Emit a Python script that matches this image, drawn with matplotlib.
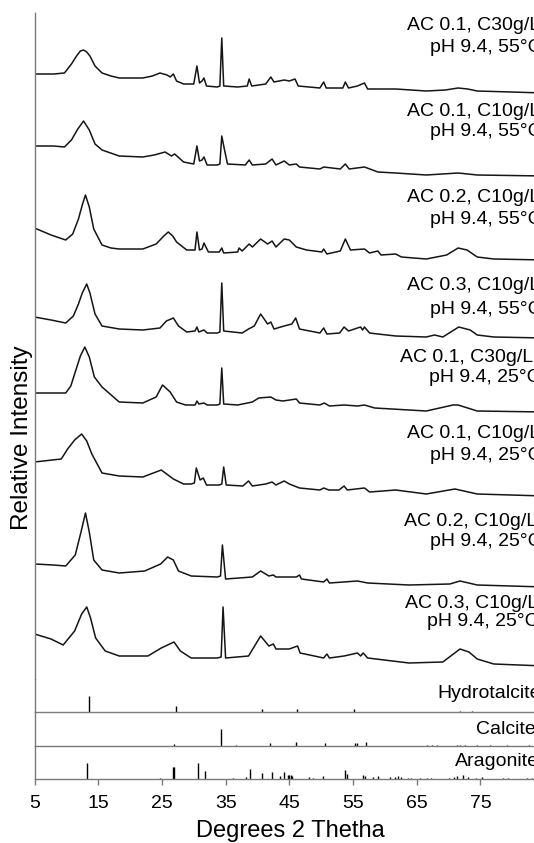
import numpy as np
import matplotlib.pyplot as plt

plt.rcParams['font.family'] = ['Liberation Sans', 'DejaVu Sans']

# --- XRD patterns (2theta in degrees, intensity above each trace's own baseline) ---
tt_1 = [5.0, 8.0, 9.7, 10.8, 11.6, 12.2, 12.7, 13.2, 13.7, 14.5, 15.6, 17.0, 18.3, 22.0, 23.5, 24.7, 25.8, 26.3, 26.8, 27.3,
        28.4, 30.0, 30.5, 30.9, 31.3, 31.6, 32.0, 33.7, 34.1, 34.4, 34.7, 36.9, 38.4, 38.7, 39.1, 41.3, 42.1, 42.6, 44.2, 45.0,
        45.9, 46.4, 49.8, 50.4, 50.8, 53.4, 53.8, 54.3, 55.7, 56.8, 57.3, 58.9, 61.7, 66.5, 69.5, 71.5, 73.0, 74.5, 85.0]
int_1 = [19, 19, 20, 29, 37, 42, 43, 41, 37, 27, 20, 17, 15, 15, 17, 20, 18, 16, 19, 12,
         9, 9, 27, 10, 12, 15, 7, 6, 7, 55, 7, 6, 7, 14, 7, 9, 16, 11, 13, 12,
         14, 7, 5, 11, 5, 5, 11, 5, 7, 10, 4, 4, 4, 2, 3, 5, 4, 2, 0]

tt_2 = [5.0, 8.0, 9.7, 10.8, 11.8, 12.7, 13.6, 14.5, 15.6, 18.3, 22.0, 23.8, 25.5, 26.5, 27.0, 28.4, 30.0, 30.5, 30.9, 31.3,
        31.6, 32.1, 33.7, 34.1, 34.4, 34.8, 35.3, 38.1, 38.7, 39.2, 41.3, 42.3, 42.9, 44.2, 45.0, 46.1, 46.6, 49.8, 50.4, 53.0,
        53.8, 54.4, 56.8, 58.9, 61.7, 66.5, 71.5, 74.5, 85.0]
int_2 = [30, 30, 29, 36, 47, 55, 46, 32, 26, 20, 19, 21, 24, 20, 22, 14, 12, 30, 15, 16,
         19, 11, 11, 12, 40, 27, 12, 11, 16, 11, 12, 17, 11, 15, 11, 12, 9, 7, 9, 7,
         12, 7, 9, 4, 3, 1, 3, 1, 0]

tt_3 = [5.0, 7.6, 9.9, 11.0, 11.9, 12.5, 13.0, 13.6, 14.3, 15.6, 17.0, 18.3, 22.0, 24.1, 25.3, 26.0, 26.7, 27.3, 28.9, 30.2,
        30.5, 30.9, 31.3, 31.6, 32.3, 34.0, 34.4, 34.7, 36.9, 37.1, 37.6, 38.7, 39.2, 40.5, 41.6, 42.3, 42.9, 44.2, 45.0, 46.1,
        47.7, 50.1, 50.4, 50.9, 53.0, 53.8, 54.6, 56.8, 57.6, 58.9, 59.4, 61.7, 62.6, 66.5, 69.7, 71.5, 72.9, 74.5, 77.1, 85.0]
int_3 = [32, 25, 20, 26, 41, 55, 65, 53, 31, 15, 12, 11, 11, 16, 24, 28, 24, 18, 10, 10,
         28, 10, 11, 17, 8, 8, 12, 7, 8, 12, 9, 16, 13, 21, 16, 19, 13, 21, 20, 13,
         10, 8, 11, 6, 9, 21, 10, 11, 7, 9, 5, 6, 3, 1, 5, 12, 10, 3, 1, 0]

tt_4 = [5.0, 7.6, 9.9, 11.1, 11.9, 12.5, 13.2, 13.7, 14.5, 15.6, 18.3, 22.0, 24.7, 25.7, 26.8, 27.6, 28.9, 30.2, 30.5, 30.8,
        31.6, 32.1, 33.7, 34.1, 34.4, 34.7, 37.6, 38.6, 39.5, 40.5, 41.6, 42.1, 42.6, 44.2, 45.4, 46.0, 46.6, 49.8, 50.4, 50.9,
        52.9, 53.6, 54.3, 55.7, 56.2, 56.5, 56.8, 57.6, 58.9, 61.7, 66.5, 67.8, 69.1, 71.6, 73.4, 74.5, 77.1, 85.0]
int_4 = [21, 18, 15, 22, 34, 45, 54, 45, 24, 12, 9, 8, 10, 17, 20, 12, 6, 7, 11, 6,
         8, 5, 5, 6, 55, 7, 5, 9, 12, 24, 14, 16, 9, 12, 14, 20, 9, 5, 10, 4,
         5, 11, 7, 10, 11, 8, 11, 5, 4, 2, 1, 3, 1, 11, 8, 3, 1, 0]

tt_5 = [5.0, 8.0, 9.9, 10.7, 11.4, 12.2, 12.9, 13.6, 14.4, 15.6, 18.3, 22.0, 24.1, 25.1, 26.3, 27.3, 28.7, 30.2, 30.5, 30.8,
        31.6, 32.1, 33.7, 34.1, 34.4, 34.7, 36.9, 39.2, 40.2, 42.1, 42.9, 44.0, 46.1, 46.6, 49.8, 50.5, 51.3, 53.6, 55.7, 56.8,
        58.4, 66.5, 70.7, 71.5, 74.5, 85.0]
int_5 = [19, 19, 19, 26, 40, 56, 65, 55, 35, 25, 10, 9, 15, 27, 20, 10, 7, 7, 11, 8,
         9, 7, 7, 8, 44, 8, 7, 10, 14, 15, 12, 11, 13, 9, 7, 9, 6, 7, 6, 7,
         4, 1, 7, 7, 1, 0]

tt_6 = [5.0, 9.2, 10.2, 11.3, 12.4, 13.2, 14.0, 15.6, 18.3, 22.0, 24.9, 26.8, 28.4, 29.6, 30.1, 30.4, 31.0, 31.5, 32.0, 34.0,
        34.4, 34.7, 35.1, 37.7, 38.6, 39.2, 41.3, 42.3, 42.9, 44.2, 45.0, 46.6, 49.8, 50.4, 51.2, 52.8, 53.6, 54.1, 56.8, 57.6,
        61.7, 66.5, 71.0, 74.5, 85.0]
int_6 = [34, 37, 47, 56, 62, 55, 42, 23, 20, 19, 26, 17, 12, 12, 13, 28, 16, 18, 11, 11,
         12, 29, 11, 10, 15, 10, 12, 14, 11, 15, 12, 8, 6, 8, 6, 6, 10, 6, 8, 4,
         6, 2, 7, 2, 0]

tt_7 = [5.0, 8.0, 9.9, 11.4, 12.3, 13.0, 13.6, 14.3, 15.6, 18.3, 22.3, 24.8, 25.9, 26.8, 27.6, 29.6, 33.7, 34.2, 34.5, 35.0,
        39.2, 40.5, 41.8, 42.5, 42.9, 46.1, 46.6, 46.9, 50.4, 50.9, 51.3, 55.7, 56.5, 57.3, 63.8, 70.2, 71.8, 74.5, 85.0]
int_7 = [23, 22, 21, 32, 55, 74, 55, 27, 17, 14, 16, 23, 30, 27, 16, 11, 10, 11, 42, 8,
         10, 16, 11, 12, 10, 10, 12, 8, 5, 8, 4, 6, 5, 4, 2, 3, 6, 2, 0]

tt_8 = [5.0, 7.6, 9.5, 11.3, 12.4, 13.2, 13.8, 14.6, 16.1, 18.3, 22.8, 24.9, 26.9, 27.9, 29.6, 33.7, 34.3, 34.6, 35.0, 38.6,
        40.5, 41.8, 42.5, 42.9, 45.0, 46.3, 46.7, 50.4, 50.9, 51.3, 53.6, 55.7, 56.2, 56.6, 57.3, 63.8, 69.1, 71.8, 73.2, 74.5,
        77.1, 85.0]
int_8 = [32, 27, 21, 35, 52, 59, 48, 28, 15, 10, 10, 18, 24, 15, 8, 8, 9, 59, 8, 10,
         30, 20, 22, 17, 17, 20, 13, 8, 12, 8, 10, 13, 10, 13, 8, 3, 4, 17, 14, 7,
         2, 0]

two_theta = [tt_1, tt_2, tt_3, tt_4, tt_5, tt_6, tt_7, tt_8]
intensity = [int_1, int_2, int_3, int_4, int_5, int_6, int_7, int_8]
offsets = [586, 503, 419, 341, 267, 183, 92, 13]

sample_names = ["AC 0.1, C30g/L", "AC 0.1, C10g/L", "AC 0.2, C10g/L", "AC 0.3, C10g/L",
                "AC 0.1, C30g/L", "AC 0.1, C10g/L", "AC 0.2, C10g/L", "AC 0.3, C10g/L"]
conditions = ["pH 9.4, 55°C"] * 4 + ["pH 9.4, 25°C"] * 4

# --- reference patterns (stick positions, relative intensity) ---
hydro_pos = [13.6, 27.2, 40.7, 46.2, 55.1, 71.8, 73.7]
hydro_int = [100, 34, 20, 16, 16, 6, 6]
calc_pos = [26.9, 34.2, 36.7, 42.0, 46.1, 50.6, 55.3, 55.7, 57.0, 66.6, 67.4, 68.2, 71.3, 71.8, 72.6, 74.4, 76.5, 79.2, 82.6]
calc_int = [10, 100, 6, 19, 23, 16, 17, 20, 23, 5, 5, 5, 5, 5, 5, 5, 5, 5, 5]
arag_pos = [13.3, 24.7, 26.7, 26.9, 30.6, 31.8, 36.2, 38.2, 38.8, 40.7, 42.3, 43.6, 44.2, 44.8, 45.0, 45.2, 45.4, 48.1,
            48.7, 50.3, 53.8, 54.0, 56.6, 56.9, 58.2, 59.0, 60.8, 61.6, 62.0, 62.6, 63.7, 64.1, 65.5, 66.6, 67.3, 70.0,
            70.8, 71.4, 72.3, 73.1, 74.3, 75.3, 78.6, 79.4, 82.3, 83.1]
arag_int = [100, 6, 72, 72, 96, 50, 6, 14, 60, 34, 40, 20, 40, 24, 24, 24, 20, 10,
            6, 18, 54, 30, 24, 20, 14, 18, 10, 12, 20, 14, 8, 8, 6, 6, 8, 6,
            12, 18, 22, 10, 8, 14, 6, 8, 8, 8]

W, H = 534, 843
LEFT = 34.5
XMIN, XMAX = 5, 85
RIGHT = LEFT + (XMAX - XMIN) * 6.37   # axes runs past the right edge of the picture
GREY = '#7a7a7a'
LABEL_SIZE = 14

fig = plt.figure(figsize=(W / 100, H / 100), dpi=100)


def add_panel(top, bottom):
    return fig.add_axes([LEFT / W, 1 - bottom / H, (RIGHT - LEFT) / W, (bottom - top) / H])


ax = add_panel(13, 679)
ax_h = add_panel(679, 712)
ax_c = add_panel(712, 746)
ax_a = add_panel(746, 779)

for tt, inten, off in zip(two_theta, intensity, offsets):
    ax.plot(tt, np.array(inten) + off, color='#151515', lw=1.1)
ax.set_ylim(0, 666)

for a, pos, inten in [(ax_h, hydro_pos, hydro_int), (ax_c, calc_pos, calc_int), (ax_a, arag_pos, arag_int)]:
    a.vlines(pos, 0, inten, color='black', lw=1.0)
    a.set_ylim(0, 200)

for a in [ax, ax_h, ax_c, ax_a]:
    a.set_xlim(XMIN, XMAX)
    a.set_yticks([])
    a.patch.set_alpha(0)
    for s in ['top', 'right']:
        a.spines[s].set_visible(False)
    a.spines['left'].set_color(GREY)
    a.spines['left'].set_linewidth(1.0)
    a.spines['bottom'].set_color(GREY)
    a.spines['bottom'].set_linewidth(1.0)
    a.tick_params(axis='x', bottom=False, labelbottom=False)
ax.spines['bottom'].set_visible(False)

ax_a.set_xticks([5, 15, 25, 35, 45, 55, 65, 75])
ax_a.tick_params(axis='x', bottom=True, labelbottom=True, direction='out', length=4.5, width=1.0,
                 color=GREY, labelsize=14, pad=7)

# sample labels (start x, centre y in pixels of the picture)
name_pos = [(407, 26), (407, 111), (407, 197), (407, 286), (400, 358), (407, 434), (404, 522), (405, 603)]
cond_pos = [(430, 48), (430, 132), (430, 219), (430, 309), (429, 378), (430, 455), (430, 542), (427, 622)]
for name, cond, (nx, ny), (cx, cy) in zip(sample_names, conditions, name_pos, cond_pos):
    fig.text(nx / W, 1 - ny / H, name, ha='left', va='center', fontsize=LABEL_SIZE)
    fig.text(cx / W, 1 - cy / H, cond, ha='left', va='center', fontsize=LABEL_SIZE)

for txt, px, py in [("Hydrotalcite", 437, 693), ("Calcite", 476, 730), ("Aragonite", 455, 762)]:
    fig.text(px / W, 1 - py / H, txt, ha='left', va='center', fontsize=LABEL_SIZE)

fig.text(290 / W, 1 - 837 / H, "Degrees 2 Thetha", ha='center', va='baseline', fontsize=17)
fig.text(28 / W, 1 - 438 / H, "Relative Intensity", rotation=90, rotation_mode='anchor',
         ha='center', va='baseline', fontsize=17.5)

fig.savefig("out.png", dpi=100)
